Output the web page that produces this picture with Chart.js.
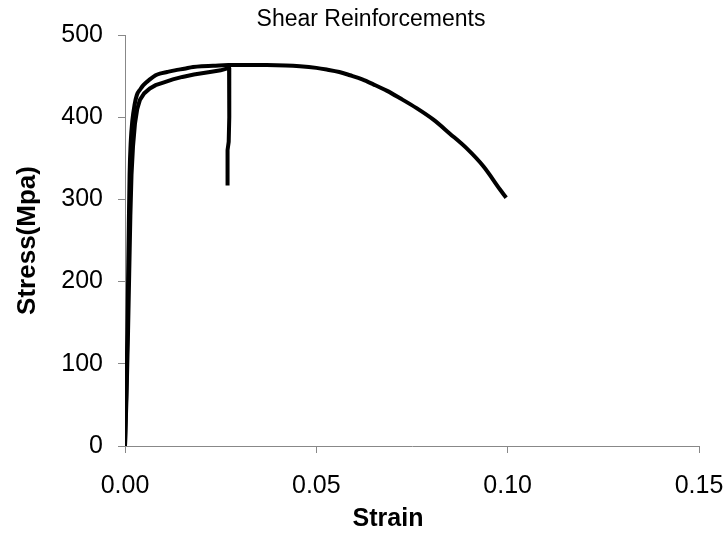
<!DOCTYPE html>
<html>
<head>
<meta charset="utf-8">
<script src="https://cdn.jsdelivr.net/npm/chart.js@4/dist/chart.umd.min.js"></script>
<style>
  body { margin: 0; background: #fff; }
</style>
</head>
<body>
<canvas id="Spanning_Chart" width="728" height="535"></canvas>
<script>
// Lange curve (tot breuk bij 0.10)
var rekLang = [0, 0.0003, 0.0006, 0.0008, 0.0010, 0.0012, 0.0015, 0.0019, 0.0025, 0.0031, 0.0040,
    0.0048, 0.0065, 0.0080, 0.0091, 0.0110, 0.0130, 0.0155, 0.0178, 0.0200, 0.0230, 0.0270,
    0.0310, 0.0370, 0.0420, 0.0457, 0.0500, 0.0527, 0.0560, 0.0588, 0.0620, 0.0649, 0.0685,
    0.0719, 0.0762, 0.0806, 0.0849, 0.0893, 0.0937, 0.0980, 0.0996];
var spanningLang = [0, 60, 130, 200, 270, 330, 370, 395, 415, 427, 434,
    439, 446, 451, 453, 455, 457, 459, 461, 462, 462.5, 463.5,
    463.5, 463.5, 463, 462, 460, 458, 455, 451, 446, 440, 432,
    423, 411, 397, 380, 362, 340, 312, 302];

// Korte curve (breuk bij 0.027)
var rekKort = [0, 0.0004, 0.0008, 0.0011, 0.0014, 0.0017, 0.0021, 0.0026, 0.0032, 0.0039, 0.0050,
    0.0065, 0.0080, 0.0100, 0.0125, 0.0150, 0.0180, 0.0222, 0.0250, 0.0272,
    0.0273, 0.0272, 0.0271, 0.0268, 0.0268];
var spanningKort = [0, 60, 140, 210, 280, 330, 365, 392, 410, 421, 429,
    435, 439, 442, 446, 449, 452, 455, 457, 460,
    440, 400, 370, 360, 317];

var xTicks = [0, 0.05, 0.10, 0.15];
var yTicks = [0, 100, 200, 300, 400, 500];

var lettertype = "'Liberation Sans', Arial, sans-serif";

function maakPunten(rek, spanning) {
    return rek.map(function (r, i) { return { x: r, y: spanning[i] }; });
}

// titel en x-as titel los tekenen (staan in het origineel niet precies in het midden)
var teksten = [
    { tekst: 'Shear Reinforcements', font: 'normal 23px ', x: 371, y: 20 },
    { tekst: 'Strain', font: 'bold 25px ', x: 388, y: 519 }
];
var tekstPlugin = {
    id: 'losseTeksten',
    afterDraw: function (chart) {
        var ctx = chart.ctx;
        ctx.save();
        ctx.fillStyle = '#000';
        ctx.textAlign = 'center';
        ctx.textBaseline = 'middle';
        teksten.forEach(function (t) {
            ctx.font = t.font + lettertype;
            ctx.fillText(t.tekst, t.x, t.y);
        });
        ctx.restore();
    }
};

var ctx = document.getElementById('Spanning_Chart').getContext('2d');
var spanningChart = new Chart(ctx, {
    type: 'line',
    data: {
        datasets: [
            { label: 'Lang', data: maakPunten(rekLang, spanningLang), borderColor: '#000', borderWidth: 4, pointRadius: 0, cubicInterpolationMode: 'monotone', fill: false },
            { label: 'Kort', data: maakPunten(rekKort, spanningKort), borderColor: '#000', borderWidth: 4, pointRadius: 0, tension: 0, fill: false }
        ]
    },
    options: {
        responsive: false,
        animation: false,
        layout: { padding: { top: 35, right: 29, left: 0, bottom: 0 } },
        plugins: {
            legend: { display: false },
            tooltip: { enabled: false },
            title: { display: false }
        },
        scales: {
            x: {
                type: 'linear',
                min: xTicks[0],
                max: xTicks[xTicks.length - 1],
                afterBuildTicks: function (s) { s.ticks = xTicks.map(function (v) { return { value: v }; }); },
                afterFit: function (s) { s.height = 89; s.paddingRight = 0; s.paddingLeft = 0; },
                ticks: {
                    color: '#000',
                    font: { family: lettertype, size: 25 },
                    padding: 18,
                    maxRotation: 0,
                    callback: function (v) { return Number(v).toFixed(2); }
                },
                grid: { drawOnChartArea: false, drawTicks: true, tickLength: 7, color: '#888' },
                border: { color: '#888', width: 1 }
            },
            y: {
                min: yTicks[0],
                max: yTicks[yTicks.length - 1],
                afterBuildTicks: function (s) { s.ticks = yTicks.map(function (v) { return { value: v }; }); },
                afterFit: function (s) { s.width = 125; s.paddingTop = 0; },
                ticks: {
                    color: '#000',
                    font: { family: lettertype, size: 25 },
                    padding: 15
                },
                grid: { drawOnChartArea: false, drawTicks: true, tickLength: 7, color: '#888' },
                border: { color: '#888', width: 1 },
                title: {
                    display: true,
                    text: 'Stress(Mpa)',
                    color: '#000',
                    font: { family: lettertype, size: 26, weight: 'bold' },
                    padding: { top: 12, bottom: 0 }
                }
            }
        }
    },
    plugins: [tekstPlugin]
});
</script>
</body>
</html>
